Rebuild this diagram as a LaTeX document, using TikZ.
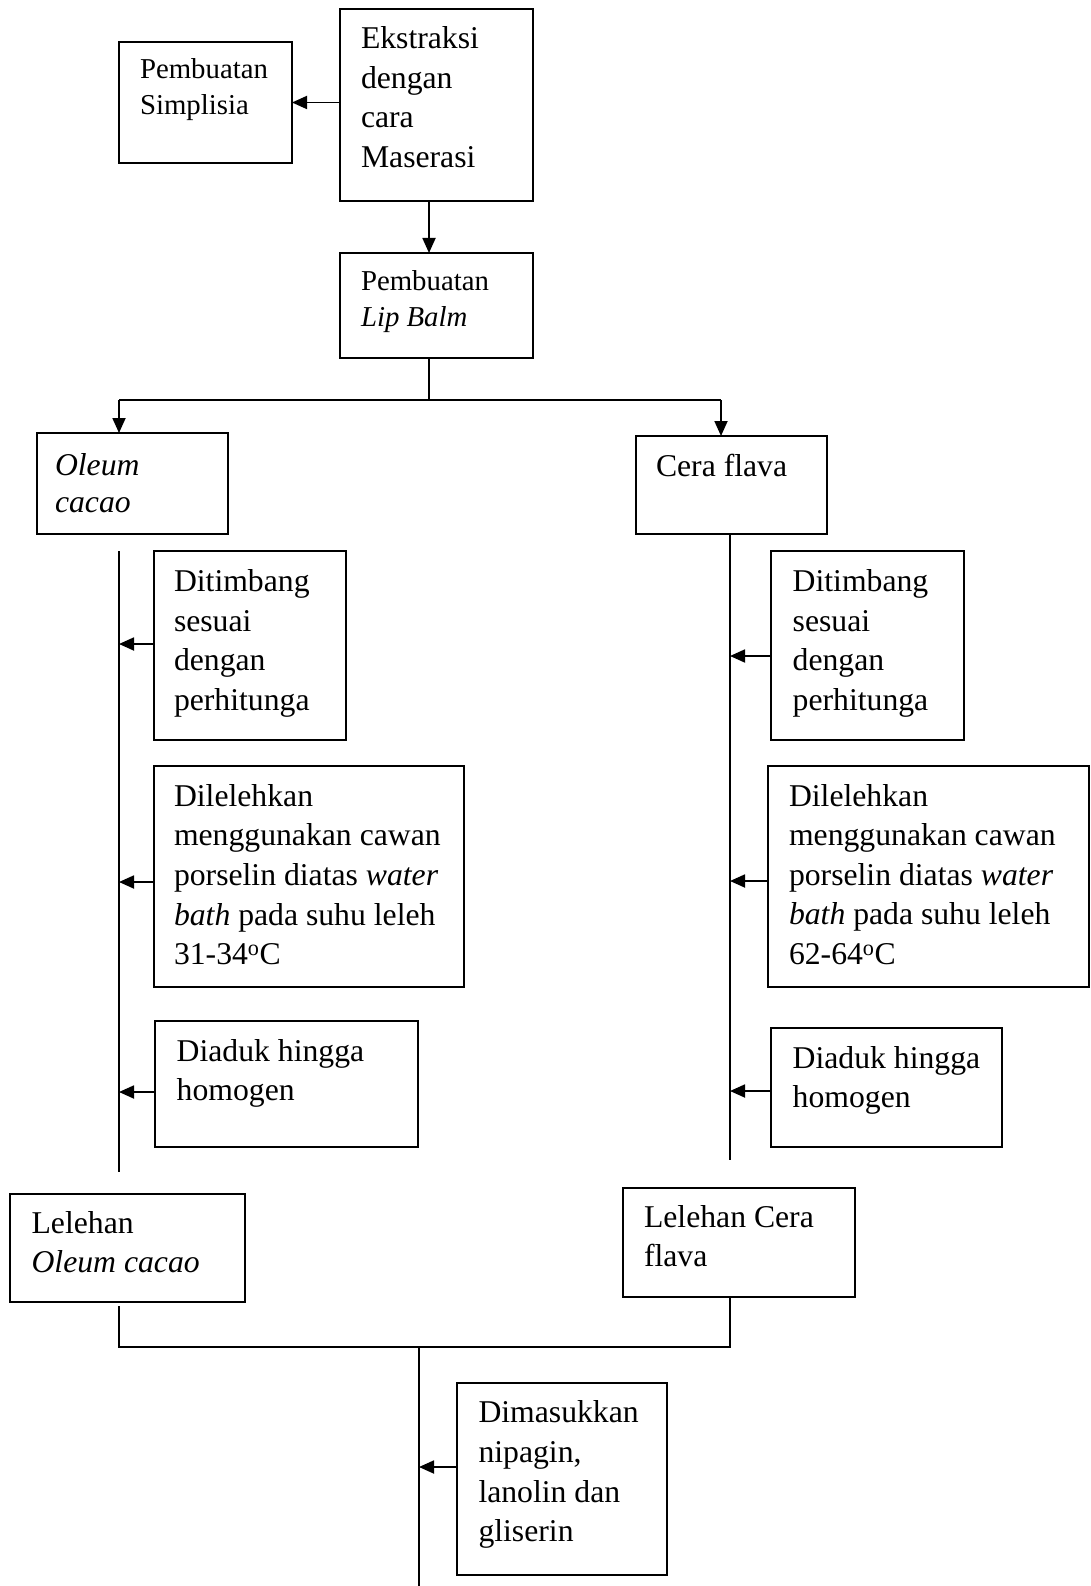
\documentclass[tikz,border=0pt]{standalone}
\usepackage{fontspec}
\setmainfont{Liberation Serif}
\usetikzlibrary{arrows.meta}
\newcommand{\bx}[6]{\parbox[c][#2pt][t]{#1pt}{\raggedright\leftskip=#3pt\relax\baselineskip=#5pt\relax\rule{0pt}{#4pt}#6}}
\begin{document}
\begin{tikzpicture}[x=1pt,y=-1pt,
  box/.style={draw,line width=2pt,inner sep=0pt,outer sep=0pt,anchor=north west,font=\fontsize{31.7}{39.5}\selectfont},
  smallbox/.style={box,font=\fontsize{28.8}{35.7}\selectfont},
  ln/.style={line width=1.8pt},
  arr/.style={ln,-{Triangle[length=15pt,width=13pt]}}]
\useasboundingbox (0,0) rectangle (1090,1586);

\node[box] (ext) at (340,9) {\bx{193}{192}{21}{40}{39.5}{Ekstraksi\\dengan\\cara\\Maserasi}};
\node[smallbox] (sim) at (119,42) {\bx{173}{121}{21}{37}{35.7}{Pembuatan\\Simplisia}};
\node[smallbox] (lip) at (340,253) {\bx{193}{105}{21}{38}{35.7}{Pembuatan\\\textit{Lip Balm}}};
\node[box] (ole) at (37,433) {\bx{191}{101}{18}{42}{37.5}{\textit{Oleum}\\\textit{cacao}}};
\node[box] (cer) at (636,436) {\bx{191}{98}{20}{40}{39.5}{Cera flava}};
\node[box] (dl) at (154,551) {\bx{192}{189}{20}{40.7}{39.5}{Ditimbang\\sesuai\\dengan\\perhitunga}};
\node[box] (ml) at (154,766) {\bx{310}{221}{20}{40}{39.7}{Dilelehkan\\menggunakan cawan\\porselin diatas \textit{water}\\\textit{bath} pada suhu leleh\\31-34\textsuperscript{o}C}};
\node[box] (al) at (155,1021) {\bx{263}{126}{21.7}{40}{39}{Diaduk hingga\\homogen}};
\node[box] (dr) at (771,551) {\bx{193}{189}{21.7}{40.7}{39.5}{Ditimbang\\sesuai\\dengan\\perhitunga}};
\node[box] (mr) at (768,766) {\bx{321}{221}{21}{40}{39.6}{Dilelehkan\\menggunakan cawan\\porselin diatas \textit{water}\\\textit{bath} pada suhu leleh\\62-64\textsuperscript{o}C}};
\node[box] (ar) at (771,1028) {\bx{231}{119}{21.7}{40.6}{38.4}{Diaduk hingga\\homogen}};
\node[box] (lo) at (10,1194) {\bx{235}{108}{21.6}{39}{39}{Lelehan\\\textit{Oleum cacao}}};
\node[box] (lc) at (623,1188) {\bx{232}{109}{21}{39.7}{39}{Lelehan Cera\\flava}};
\node[box] (dim) at (457,1383) {\bx{210}{192}{21.5}{39.7}{39.7}{Dimasukkan\\nipagin,\\lanolin dan\\gliserin}};

% top part
\draw[arr] (ext.west |- sim.east) -- (sim.east);
\coordinate (c1) at (429,0);
\draw[arr] (ext.south -| c1) -- (lip.north -| c1);
\coordinate (split) at (429,400);
\coordinate (sl) at (119,400);
\coordinate (sr) at (721,400);
\draw[ln] (lip.south -| c1) -- (split);
\draw[ln] (sl) -- (sr);
\draw[arr] (sl) -- (ole.north -| sl);
\draw[arr] (sr) -- (cer.north -| sr);

% left column
\coordinate (lt) at (119,551);
\coordinate (lb) at (119,1172);
\draw[ln] (lt) -- (lb);
\coordinate (la1) at (119,644);
\coordinate (la2) at (119,882);
\coordinate (la3) at (119,1092);
\draw[arr] (dl.west |- la1) -- (la1);
\draw[arr] (ml.west |- la2) -- (la2);
\draw[arr] (al.west |- la3) -- (la3);

% right column
\coordinate (rb) at (730,1160);
\draw[ln] (cer.south -| rb) -- (rb);
\coordinate (ra1) at (730,656);
\coordinate (ra2) at (730,881);
\coordinate (ra3) at (730,1091);
\draw[arr] (dr.west |- ra1) -- (ra1);
\draw[arr] (mr.west |- ra2) -- (ra2);
\draw[arr] (ar.west |- ra3) -- (ra3);

% join
\coordinate (jlt) at (119,1306);
\coordinate (jl) at (119,1347);
\coordinate (jr) at (730,1347);
\coordinate (jc) at (419,1347);
\coordinate (jend) at (419,1586);
\draw[ln] (jlt) -- (jl) -- (jr) -- (lc.south -| jr);
\draw[ln] (jc) -- (jend);
\coordinate (da) at (419,1467);
\draw[arr] (dim.west |- da) -- (da);
\end{tikzpicture}
\end{document}
